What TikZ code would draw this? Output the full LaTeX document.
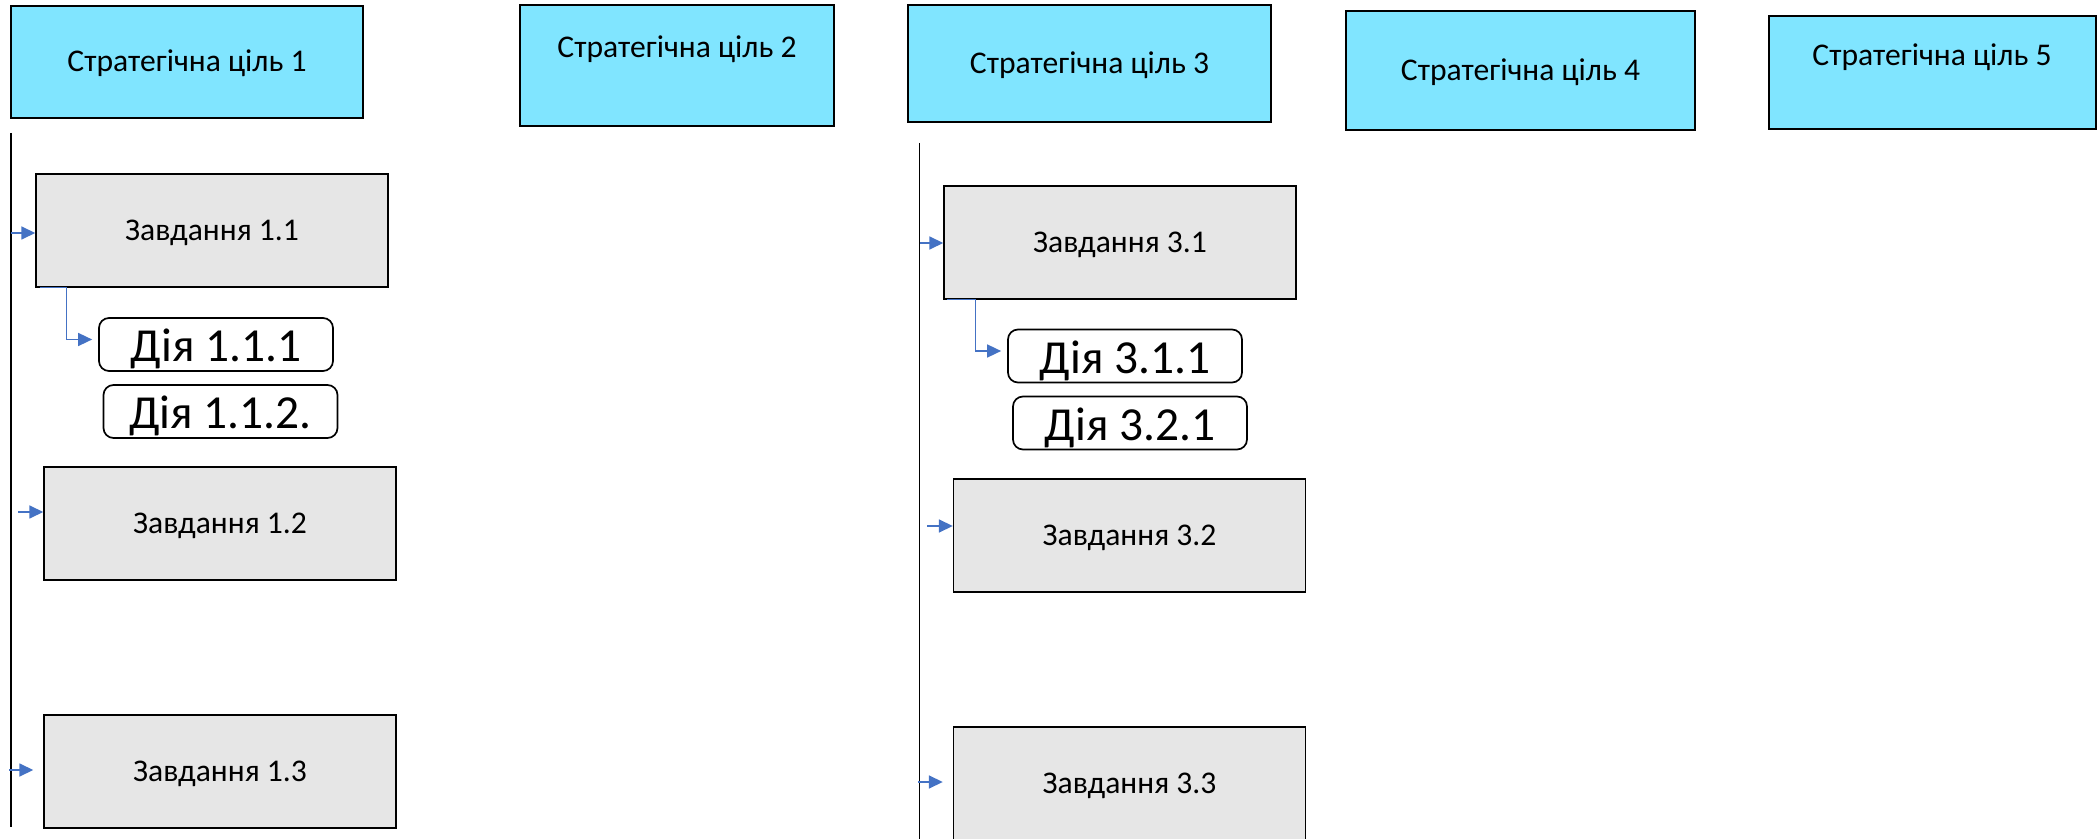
\documentclass[tikz,border=0pt]{standalone}
\usepackage{fontspec}
\setmainfont{Carlito}
\usetikzlibrary{arrows.meta}
\definecolor{goalfill}{RGB}{128,229,255}
\definecolor{taskfill}{RGB}{230,230,230}
\definecolor{linkblue}{RGB}{68,114,196}

\begin{document}
\begin{tikzpicture}[x=0.5pt,y=-0.5pt,font=\fontsize{15.8}{19}\selectfont,
  goal/.style = {draw, line width=1pt, fill=goalfill, inner sep=0pt, text height=10pt, text depth=0pt},
  task/.style = {draw, line width=0.7pt, fill=taskfill, minimum width=176pt, minimum height=56.5pt, inner sep=0pt, text height=10pt, text depth=0pt},
  act/.style = {draw, line width=0.85pt, rounded corners=5pt, minimum width=117pt, minimum height=26.5pt, inner sep=0pt, font=\fontsize{23.7}{28}\selectfont, text height=17.5pt, text depth=0pt},
  spine/.style = {draw, line width=0.8pt},
  feed/.style = {draw=linkblue, line width=0.8pt, -{Triangle[length=7pt,width=6.5pt]}}]
\useasboundingbox (0,0) rectangle (2100,839);
\node[goal, minimum width=176pt, minimum height=56pt] (g1) at (187,62) {Стратегічна ціль 1};
\node[goal, minimum width=157pt, minimum height=60.5pt, label={[yshift=8.75pt, text height=10pt, text depth=0pt]center:Стратегічна ціль 2}] (g2) at (677,65.5) {};
\node[goal, minimum width=181.5pt, minimum height=58.5pt] (g3) at (1089.5,63.5) {Стратегічна ціль 3};
\node[goal, minimum width=174.5pt, minimum height=59.5pt] (g4) at (1520.5,70.5) {Стратегічна ціль 4};
\node[goal, minimum width=163.5pt, minimum height=56.5pt, label={[yshift=8.25pt, text height=10pt, text depth=0pt]center:Стратегічна ціль 5}] (g5) at (1932,72.5) {};
\coordinate (s1a) at (11,133);
\coordinate (s1b) at (11,827);
\coordinate (s3a) at (919.5,143);
\coordinate (s3b) at (919.5,839);
\draw[spine] (s1a) -- (s1b);
\draw[spine] (s3a) -- (s3b);
\node[task] (t11) at (212,230.5) {Завдання 1.1};
\node[task] (t12) at (220,523.5) {Завдання 1.2};
\node[task] (t13) at (220,771.5) {Завдання 1.3};
\node[task] (t31) at (1120,242.5) {Завдання 3.1};
\node[task] (t32) at (1129.5,535.5) {Завдання 3.2};
\node[task] (t33) at (1129.5,783.5) {Завдання 3.3};
\node[act] (a111) at (216,344.5) {Дія 1.1.1};
\node[act] (a112) at (220.5,411.5) {Дія 1.1.2.};
\node[act] (a311) at (1125,356) {Дія 3.1.1};
\node[act] (a321) at (1130,423) {Дія 3.2.1};
\coordinate (f11) at (11,233);
\coordinate (f12) at (18,512);
\coordinate (f13) at (9,770);
\coordinate (f31) at (920,243);
\coordinate (f32) at (927,526);
\coordinate (f33) at (918,782);
\draw[feed] (f11) -- (f11 -| t11.west);
\draw[feed] (f12) -- (f12 -| t12.west);
\draw[feed, shorten >=5pt] (f13) -- (f13 -| t13.west);
\draw[feed] (f31) -- (f31 -| t31.west);
\draw[feed] (f32) -- (f32 -| t32.west);
\draw[feed, shorten >=5pt] (f33) -- (f33 -| t33.west);
\draw[feed] ([xshift=2.5pt]t11.south west) -- ++(26,0) |- ([xshift=-3pt,yshift=2.5pt]a111.west);
\draw[feed] ([xshift=2pt]t31.south west) -- ++(28,0) |- ([xshift=-3pt,yshift=2.5pt]a311.west);
\end{tikzpicture}
\end{document}
